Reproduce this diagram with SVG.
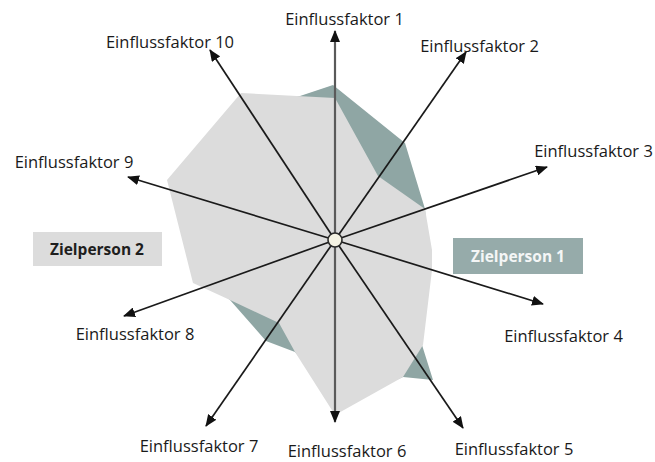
<svg xmlns="http://www.w3.org/2000/svg" width="655" height="462" viewBox="0 0 655 462">
<style>
.lbl{font-family:"Open Sans","Liberation Sans",sans-serif;font-size:16.5px;fill:#1a1a1a;text-anchor:middle}
.ax{stroke:#1a1a1a;stroke-width:1.7;fill:none;marker-end:url(#ah)}
.ax1{stroke:#5a5a5a;stroke-width:2.2;fill:none;marker-end:url(#ah)}
.box{font-family:"Open Sans","Liberation Sans",sans-serif;font-size:15.5px;font-weight:bold;text-anchor:middle}
</style>
<defs>
<marker id="ah" markerUnits="userSpaceOnUse" markerWidth="12" markerHeight="10" refX="11" refY="5" orient="auto">
<path d="M0,0 L12,5 L0,10 Z" fill="#111"/>
</marker>
</defs>
<rect width="655" height="462" fill="#fff"/>
<g id="zielperson1-area">
<polygon points="300,96 333,85 405,143 425,209 430,270 422,345 433,380 403,377 340,405 295,352 266,341 230,300 200,275 175,185 245,100" fill="#8fa6a4"/>
</g>
<g id="zielperson2-area">
<polygon points="241,93 335,98 378,176 425,209 432,250 432,270 423,345 403,377 335,415 295,352 279,323 230,300 193,283 167,180" fill="#dcdcdc"/>
</g>
<g id="connectors">
<line class="ax1" x1="335" y1="240" x2="335" y2="31"/>
<line class="ax" x1="335" y1="240" x2="466" y2="52"/>
<line class="ax" x1="335" y1="240" x2="547" y2="167"/>
<line class="ax" x1="335" y1="240" x2="543" y2="304"/>
<line class="ax" x1="335" y1="240" x2="463" y2="428"/>
<line class="ax1" x1="335" y1="240" x2="335" y2="422"/>
<line class="ax" x1="335" y1="240" x2="206" y2="426"/>
<line class="ax" x1="335" y1="240" x2="124" y2="316"/>
<line class="ax" x1="335" y1="240" x2="128" y2="177"/>
<line class="ax" x1="335" y1="240" x2="210" y2="50"/>
</g>
<g id="center"><circle cx="335" cy="240" r="7" fill="#f5f3e4" stroke="#2a2a2a" stroke-width="1.6"/></g>
<g id="f1"><text class="lbl" x="344.5" y="25">Einflussfaktor 1</text></g>
<g id="f2"><text class="lbl" x="479.5" y="52">Einflussfaktor 2</text></g>
<g id="f3"><text class="lbl" x="593.5" y="157">Einflussfaktor 3</text></g>
<g id="f4"><text class="lbl" x="563.5" y="342">Einflussfaktor 4</text></g>
<g id="f5"><text class="lbl" x="514" y="455">Einflussfaktor 5</text></g>
<g id="f6"><text class="lbl" x="347" y="457">Einflussfaktor 6</text></g>
<g id="f7"><text class="lbl" x="199" y="452">Einflussfaktor 7</text></g>
<g id="f8"><text class="lbl" x="135" y="340">Einflussfaktor 8</text></g>
<g id="f9"><text class="lbl" x="74" y="168">Einflussfaktor 9</text></g>
<g id="f10"><text class="lbl" x="170" y="48">Einflussfaktor 10</text></g>
<g id="zielperson1"><rect x="453" y="238" width="130" height="36" fill="#96abaa"/><text class="box" x="518" y="262" fill="#f4f6f6">Zielperson 1</text></g>
<g id="zielperson2"><rect x="33" y="232" width="129" height="34" fill="#dcdcdc"/><text class="box" x="97" y="255" fill="#1e1e1e">Zielperson 2</text></g>
</svg>
